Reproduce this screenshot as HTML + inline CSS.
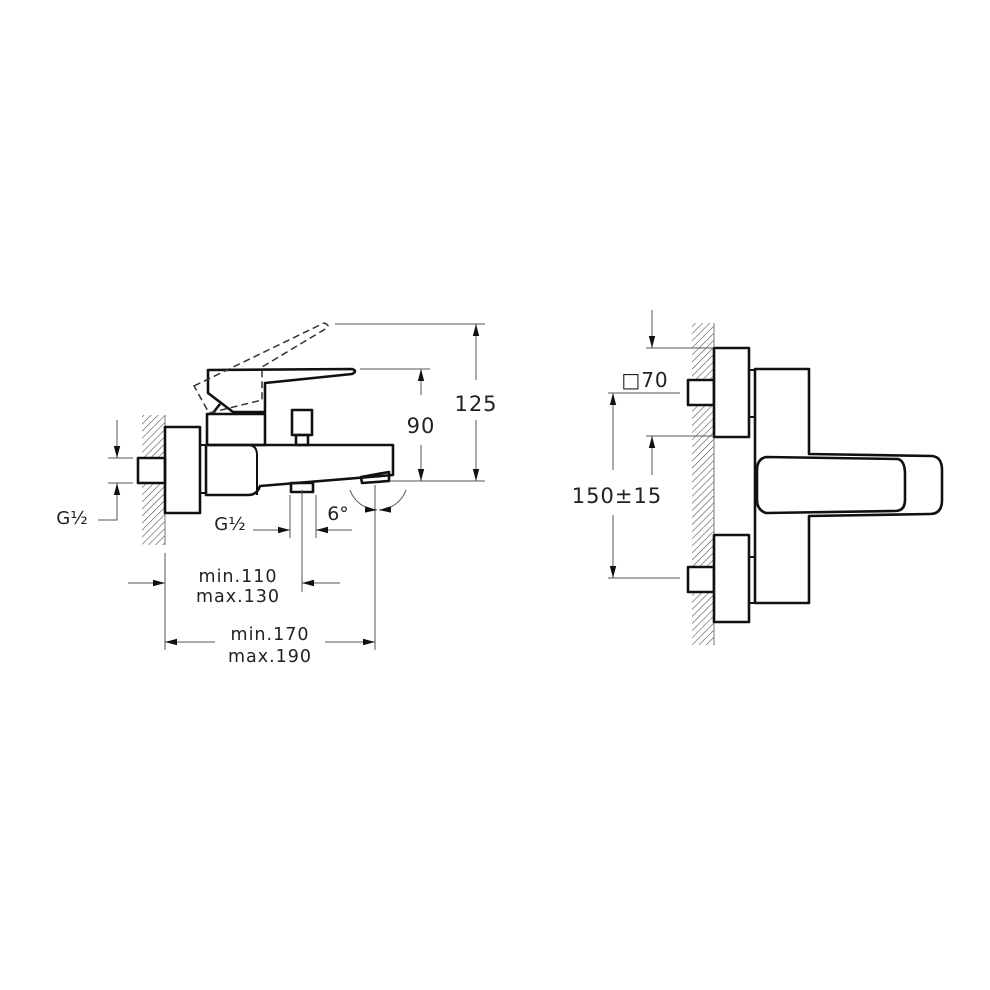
<!DOCTYPE html>
<html><head><meta charset="utf-8"><style>
html,body{margin:0;padding:0;background:#fff}
svg{display:block}
text{font-family:"DejaVu Sans","Liberation Sans",sans-serif;fill:#222}
</style></head><body>
<svg width="990" height="990" viewBox="0 0 990 990" xmlns="http://www.w3.org/2000/svg">
<defs>
<pattern id="h" width="5" height="5" patternUnits="userSpaceOnUse" patternTransform="rotate(45)">
<line x1="0" y1="0" x2="0" y2="5" stroke="#555" stroke-width="1.2"/>
</pattern>
<marker id="a" markerWidth="12" markerHeight="8" refX="12" refY="4" orient="auto" markerUnits="userSpaceOnUse">
<path d="M0,0.8 L12,4 L0,7.2 Z" fill="#111"/>
</marker>
</defs>
<g fill="none" stroke="#111" stroke-width="2.6" stroke-linejoin="round">
<rect x="142" y="415" width="23" height="43" fill="url(#h)" stroke="none"/>
<rect x="142" y="483" width="23" height="62" fill="url(#h)" stroke="none"/>
<line x1="165" y1="415" x2="165" y2="545" stroke="#777" stroke-width="1"/>
<rect x="138" y="458" width="27" height="25"/>
<rect x="165" y="427" width="35" height="86"/>
<rect x="200" y="445" width="6" height="48" stroke-width="2"/>
<rect x="207" y="414" width="58" height="31"/>
<path d="M206,445 L393,445 L393,475 L260,486 Q257,495 248,495 L206,495 Z"/>
<path d="M206,445 L248,445 Q257,445 257,455 L257,495" stroke-width="2"/>
<rect x="292" y="410" width="20" height="25"/>
<rect x="296" y="435" width="12" height="10"/>
<rect x="291" y="483" width="22" height="9"/>
<path d="M361,477 L389,472 L389,481 L362,483 Z"/>
<path d="M208,370 L352,369 Q358,371 352,374 L265,383 L265,412 L233,412 L208,393 Z"/>
<path d="M213,413 L220,404"/>
</g>
<path d="M194,386 L324,323 Q330,325 327,328 L262,367 L262,400 L209,413 Z" fill="none" stroke="#333" stroke-width="1.5" stroke-dasharray="7,4"/>
<g stroke="#555" stroke-width="1" fill="none">
<line x1="335" y1="324" x2="485" y2="324"/>
<line x1="360" y1="369" x2="430" y2="369"/>
<line x1="390" y1="481" x2="485" y2="481"/>
<line x1="421" y1="395" x2="421" y2="369" marker-end="url(#a)"/>
<line x1="421" y1="445" x2="421" y2="481" marker-end="url(#a)"/>
<line x1="476" y1="380" x2="476" y2="324" marker-end="url(#a)"/>
<line x1="476" y1="420" x2="476" y2="481" marker-end="url(#a)"/>
<line x1="108" y1="458" x2="133" y2="458"/>
<line x1="108" y1="483" x2="133" y2="483"/>
<line x1="117" y1="420" x2="117" y2="458" marker-end="url(#a)"/>
<polyline points="98,520 117,520 117,483" />
<line x1="117" y1="500" x2="117" y2="483" marker-end="url(#a)"/>
<line x1="290" y1="495" x2="290" y2="538"/>
<line x1="316" y1="495" x2="316" y2="538"/>
<line x1="253" y1="530" x2="290" y2="530" marker-end="url(#a)"/>
<line x1="352" y1="530" x2="316" y2="530" marker-end="url(#a)"/>
<line x1="165" y1="553" x2="165" y2="650"/>
<line x1="302" y1="490" x2="302" y2="592"/>
<line x1="375" y1="485" x2="375" y2="650"/>
<line x1="128" y1="583" x2="165" y2="583" marker-end="url(#a)"/>
<line x1="340" y1="583" x2="302" y2="583" marker-end="url(#a)"/>
<line x1="215" y1="642" x2="165" y2="642" marker-end="url(#a)"/>
<line x1="325" y1="642" x2="375" y2="642" marker-end="url(#a)"/>
<path d="M350,490 A30,30 0 0 0 377,510" marker-end="url(#a)"/>
<path d="M406,490 A30,30 0 0 1 379,510" marker-end="url(#a)"/>
</g>
<text x="421" y="433" font-size="21" text-anchor="middle" letter-spacing="1">90</text>
<text x="476" y="411" font-size="21" text-anchor="middle" letter-spacing="1">125</text>
<text x="72" y="524" font-size="18" text-anchor="middle">G½</text>
<text x="230" y="530" font-size="18" text-anchor="middle">G½</text>
<text x="338" y="520" font-size="19" text-anchor="middle">6°</text>
<text x="238" y="582" font-size="17.5" text-anchor="middle" letter-spacing="1">min.110</text>
<text x="238" y="602" font-size="17.5" text-anchor="middle" letter-spacing="1">max.130</text>
<text x="270" y="640" font-size="17.5" text-anchor="middle" letter-spacing="1">min.170</text>
<text x="270" y="662" font-size="17.5" text-anchor="middle" letter-spacing="1">max.190</text>
<rect x="692" y="323" width="22" height="322" fill="url(#h)"/>
<line x1="714" y1="323" x2="714" y2="645" stroke="#777" stroke-width="1"/>
<g fill="none" stroke="#111" stroke-width="2.6" stroke-linejoin="round">
<rect x="688" y="380" width="26" height="25" fill="#fff"/>
<rect x="688" y="567" width="26" height="25" fill="#fff"/>
<rect x="714" y="348" width="35" height="89" fill="#fff"/>
<rect x="714" y="535" width="35" height="87" fill="#fff"/>
<rect x="749" y="370" width="6" height="47" stroke-width="2"/>
<rect x="749" y="557" width="6" height="46" stroke-width="2"/>
<path d="M755,369 L809,369 L809,454 L932,456 Q942,457 942,470 L942,500 Q942,514 930,514 L809,516 L809,603 L755,603 Z"/>
<path d="M766,457 L898,459 Q905,461 905,474 L905,500 Q905,511 895,511 L766,513 Q757,510 757,500 L757,470 Q757,459 766,457 Z"/>
</g>
<g stroke="#555" stroke-width="1" fill="none">
<line x1="646" y1="348" x2="714" y2="348"/>
<line x1="646" y1="436" x2="714" y2="436"/>
<line x1="608" y1="393" x2="680" y2="393"/>
<line x1="608" y1="578" x2="680" y2="578"/>
<line x1="652" y1="310" x2="652" y2="348" marker-end="url(#a)"/>
<line x1="652" y1="475" x2="652" y2="436" marker-end="url(#a)"/>
<line x1="613" y1="470" x2="613" y2="393" marker-end="url(#a)"/>
<line x1="613" y1="515" x2="613" y2="578" marker-end="url(#a)"/>
</g>
<text x="645" y="387" font-size="20" text-anchor="middle" letter-spacing="1">□70</text>
<text x="617" y="503" font-size="21" text-anchor="middle" letter-spacing="1">150±15</text>
</svg>
</body></html>
